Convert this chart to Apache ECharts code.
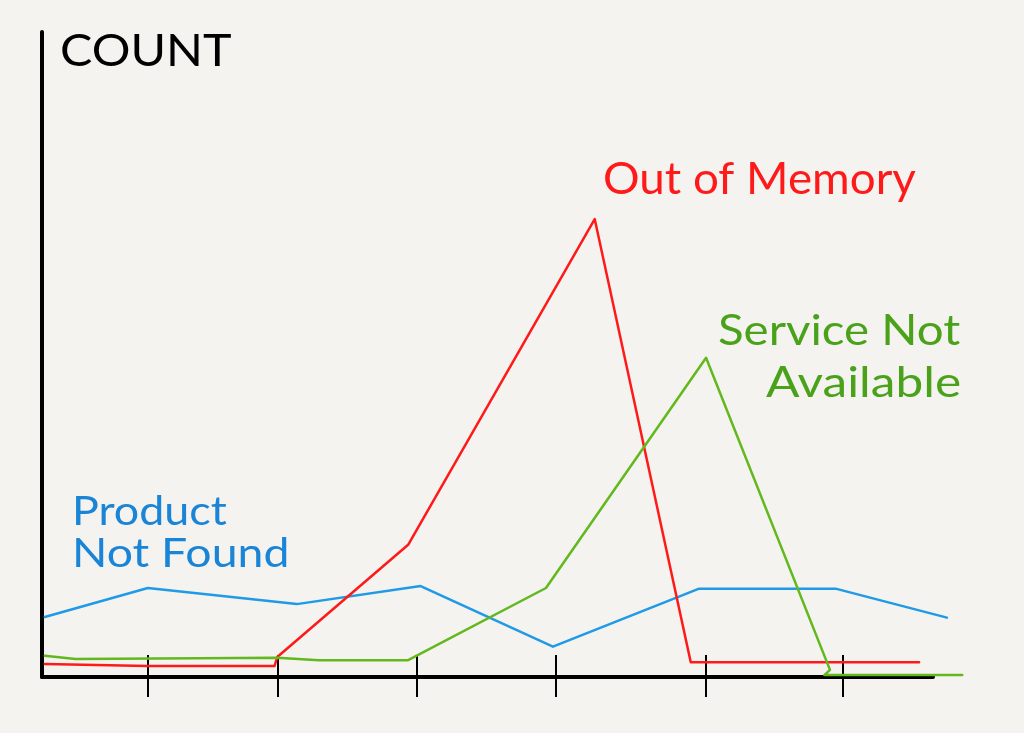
<!DOCTYPE html>
<html>
<head>
<meta charset="utf-8">
<script src="https://cdn.jsdelivr.net/npm/echarts@6/dist/echarts.min.js"></script>
<style>
html,body{margin:0;padding:0;background:#f4f3f0;}
#chart{width:1024px;height:733px;}
</style>
</head>
<body>
<div id="chart"></div>
<script>
// x: time units (hand-sketched positions), y: count (0-100 scale)
const tickPositions = [0.76, 1.69, 2.69, 3.69, 4.77, 5.75];

const productNotFound = [
  [0.02, 9.3], [0.76, 13.8], [1.83, 11.3], [2.72, 14.1],
  [3.67, 4.7], [4.72, 13.7], [5.70, 13.7], [6.50, 9.2]
];
const outOfMemory = [
  [0.02, 2.0], [0.76, 1.7], [1.67, 1.7], [1.69, 3.1], [2.63, 20.5],
  [3.97, 71.0], [4.66, 2.3], [6.30, 2.3]
];
const serviceNotAvailable = [
  [0.02, 3.3], [0.24, 2.8], [1.69, 3.0], [1.99, 2.6], [2.63, 2.6],
  [3.62, 13.8], [4.77, 49.5], [5.66, 1.1], [5.62, 0.3], [6.61, 0.3]
];

const seriesNames = ['Product Not Found', 'Out of Memory', 'Service Not Available'];
const axisTitle = 'COUNT';

const X_AXIS_MAX = 6.4;          // end of the drawn x-axis line
const X_PLOT_MAX = 6.7735;       // same scale, extended so the sketched lines can overrun the axis

const chart = echarts.init(document.getElementById('chart'));
const font = 'Lato, "Open Sans", sans-serif';

function lineSeries(name, data, color) {
  return {
    name: name, type: 'line', data: data, showSymbol: false, clip: false,
    xAxisIndex: 2, yAxisIndex: 1,
    lineStyle: { color: color, width: 2.5, cap: 'round', join: 'round' },
    animation: false
  };
}

const hidden = { axisLine: { show: false }, axisTick: { show: false }, axisLabel: { show: false }, splitLine: { show: false } };

chart.setOption({
  backgroundColor: '#f4f3f0',
  animation: false,
  grid: [
    { left: 42, right: 91, top: 32, bottom: 56 },
    { left: 42, right: 39, top: 32, bottom: 56 }
  ],
  xAxis: [
    {
      gridIndex: 0, type: 'value', min: 0, max: X_AXIS_MAX,
      axisLine: { show: true, lineStyle: { color: '#000', width: 4, cap: 'round' } },
      axisTick: { show: true, customValues: tickPositions, length: 20, inside: false,
                  lineStyle: { color: '#000', width: 2 } },
      axisLabel: { show: false }, splitLine: { show: false }
    },
    {
      gridIndex: 0, type: 'value', min: 0, max: X_AXIS_MAX, position: 'bottom',
      axisLine: { show: false },
      axisTick: { show: true, customValues: tickPositions, length: 22, inside: true,
                  lineStyle: { color: '#000', width: 2 } },
      axisLabel: { show: false }, splitLine: { show: false }
    },
    Object.assign({ gridIndex: 1, type: 'value', min: 0, max: X_PLOT_MAX }, hidden)
  ],
  yAxis: [
    {
      gridIndex: 0, type: 'value', min: 0, max: 100,
      axisLine: { show: true, lineStyle: { color: '#000', width: 4, cap: 'round' } },
      axisTick: { show: false }, axisLabel: { show: false }, splitLine: { show: false }
    },
    Object.assign({ gridIndex: 1, type: 'value', min: 0, max: 100 }, hidden)
  ],
  series: [
    lineSeries(seriesNames[0], productNotFound, '#1f9ae6'),
    lineSeries(seriesNames[1], outOfMemory, '#ff1a1a'),
    lineSeries(seriesNames[2], serviceNotAvailable, '#62b81c')
  ],
  graphic: [
    { type: 'text', x: 60, y: 30, scaleX: 1.1, style: { text: axisTitle, fill: '#000', font: '44px ' + font } },
    { type: 'text', x: 603, y: 158, scaleX: 1.04, style: { text: seriesNames[1], fill: '#ff1a1a', font: '44px ' + font } },
    { type: 'text', x: 718, y: 310, scaleX: 1.13, style: { text: 'Service Not', fill: '#4aa21a', font: '42px ' + font } },
    { type: 'text', x: 766, y: 362, scaleX: 1.18, style: { text: 'Available', fill: '#4aa21a', font: '42px ' + font } },
    { type: 'text', x: 72, y: 492, scaleX: 1.12, style: { text: 'Product', fill: '#1a84d6', font: '40px ' + font } },
    { type: 'text', x: 72, y: 534, scaleX: 1.16, style: { text: 'Not Found', fill: '#1a84d6', font: '40px ' + font } }
  ]
});
</script>
</body>
</html>
